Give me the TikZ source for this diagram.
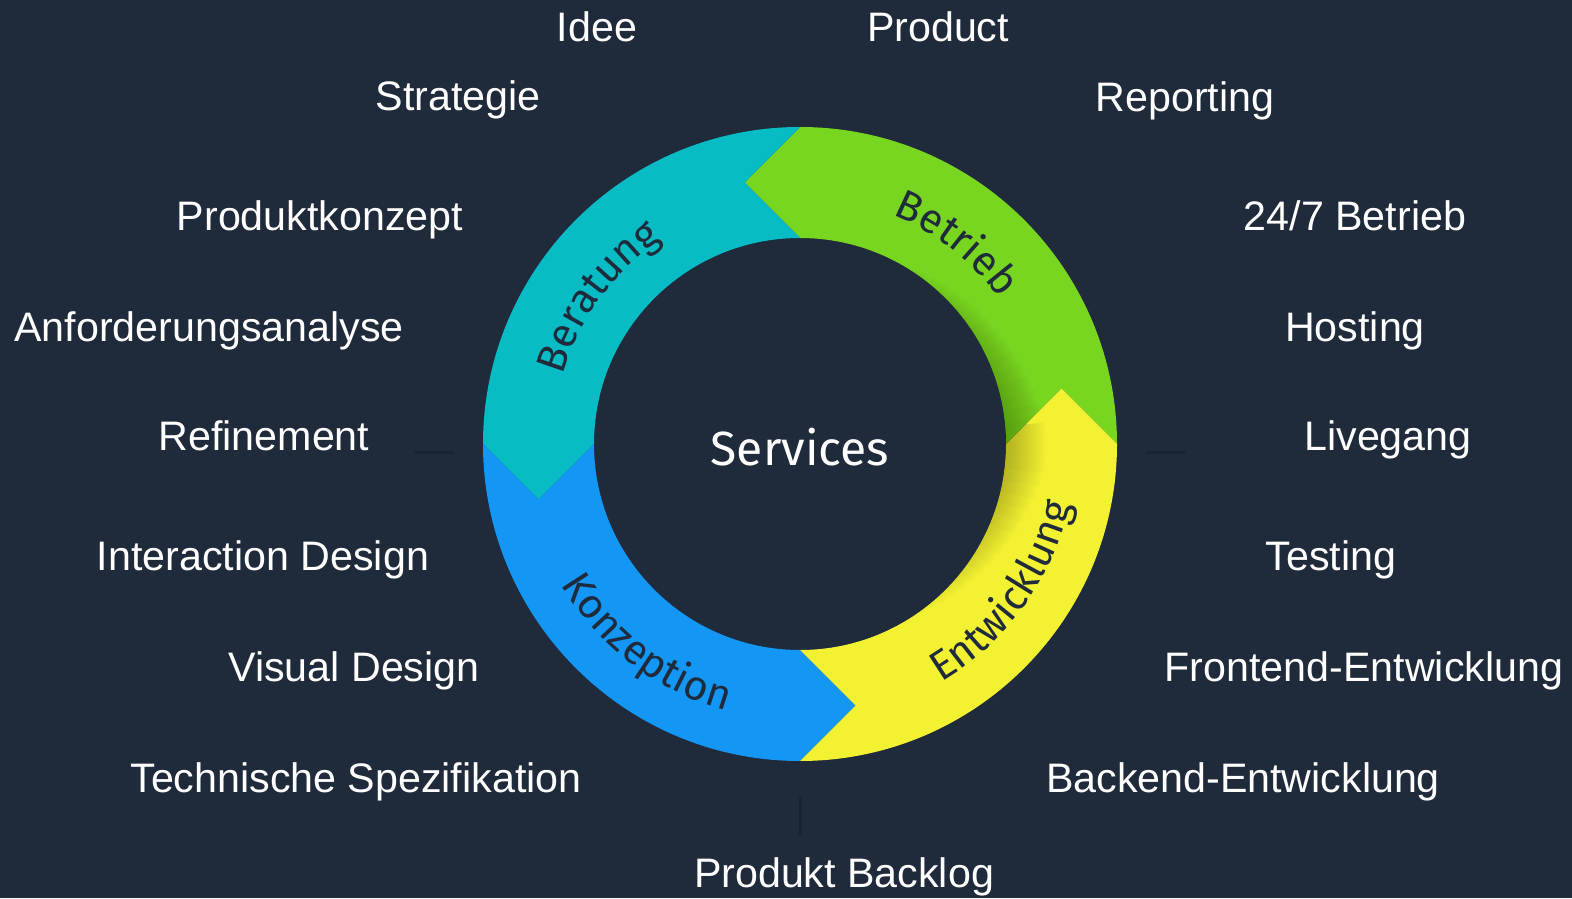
\documentclass[tikz,border=0pt]{standalone}
\usepackage{fontspec}
\setmainfont{Liberation Sans}
\newfontfamily\ringfont{Fira Sans}
\usetikzlibrary{calc,decorations.text}
\definecolor{bgc}{HTML}{1F2A3B}
\definecolor{segTeal}{HTML}{07BCC4}
\definecolor{segGreen}{HTML}{78D620}
\definecolor{segBlue}{HTML}{1496F5}
\definecolor{segYellow}{HTML}{F3F232}
\definecolor{ringtxt}{HTML}{1F2A3B}
\definecolor{dashc}{HTML}{19222F}
\tikzset{
  ringseg/.pic={
    \fill[pic actions] (317,0) -- (261.5,55.5) -- (206,0)
      arc[start angle=0,end angle=90,radius=206] -- (-55.5,261.5) -- (0,317)
      arc[start angle=90,end angle=0,radius=317] -- cycle;
  },
  lbl/.style={text=white, font=\fontsize{41.2}{48}\selectfont, anchor=base, inner sep=0pt},
  dashline/.style={draw=dashc, line width=3pt},
}
\begin{document}
\begin{tikzpicture}[x=1pt,y=1pt]
\fill[bgc] (0,0) rectangle (1572,898);
\useasboundingbox (0,0) rectangle (1572,898);
\coordinate (C) at (800,454);

% ring segments
\path (C) pic[fill=segGreen, rotate=0] {ringseg};
\path (C) pic[fill=segTeal, rotate=90] {ringseg};
\path (C) pic[fill=segBlue, rotate=180] {ringseg};
\path (C) pic[fill=segYellow, rotate=270] {ringseg};

% soft shadows near the inner edge
\begin{scope}
  \clip[shift={(C)}] (317,0) -- (261.5,55.5) -- (206,0)
      arc[start angle=0,end angle=90,radius=206] -- (-55.5,261.5) -- (0,317)
      arc[start angle=90,end angle=0,radius=317] -- cycle;
  \foreach \k in {1,...,16}{
    \fill[black,opacity=0.016] (C) -- ++(-5:{206+2.5*\k}) arc[start angle=-5,end angle={62-3.5*\k},radius={206+2.5*\k}] -- cycle;
  }
\end{scope}
\begin{scope}
  \clip[shift={(C)},rotate=270] (317,0) -- (261.5,55.5) -- (206,0)
      arc[start angle=0,end angle=90,radius=206] -- (-55.5,261.5) -- (0,317)
      arc[start angle=90,end angle=0,radius=317] -- cycle;
  \foreach \k in {1,...,16}{
    \fill[black,opacity=0.014] (C) -- ++({-58+3.2*\k}:{206+2.5*\k}) arc[start angle={-58+3.2*\k},end angle=5,radius={206+2.5*\k}] -- cycle;
  }
\end{scope}

% ring labels
\path[decorate,decoration={text along path,text align=center,text color=ringtxt,
  text={|\ringfont\fontsize{41.5}{50}\selectfont|Betrieb}}]
  (C) ++(92:247) arc[start angle=92,end angle=12,radius=247];
\path[decorate,decoration={text along path,text align=center,text color=ringtxt,
  text={|\ringfont\fontsize{41.5}{50}\selectfont|Beratung}}]
  (C) ++(184:247) arc[start angle=184,end angle=104,radius=247];
\path[decorate,decoration={text along path,text align=center,text color=ringtxt,
  text={|\ringfont\fontsize{41.5}{50}\selectfont|Konzeption}}]
  (C) ++(187.5:277) arc[start angle=187.5,end angle=277.5,radius=277];
\path[decorate,decoration={text along path,text align=center,text color=ringtxt,
  text={|\ringfont\fontsize{41.5}{50}\selectfont|Entwicklung}}]
  (C) ++(279:277) arc[start angle=279,end angle=369,radius=277];

\node[text=white, font=\ringfont\fontsize{48}{58}\selectfont, inner sep=0pt] (services) at (800,451) {Services};

% outer labels
\node[lbl] (idee) at (597,856.5) {Idee};
\node[lbl] (product) at (938,856.5) {Product};
\node[lbl] (strategie) at (458,787.5) {Strategie};
\node[lbl] (reporting) at (1185,786.5) {Reporting};
\node[lbl] (produktkonzept) at (320,667.5) {Produktkonzept};
\node[lbl] (betrieb247) at (1355,667.5) {24/7 Betrieb};
\node[lbl] (anforderung) at (209,556.5) {Anforderungsanalyse};
\node[lbl] (hosting) at (1355,556.5) {Hosting};
\node[lbl] (refinement) at (264,447.5) {Refinement};
\node[lbl] (livegang) at (1388,447.5) {Livegang};
\node[lbl] (interaction) at (263,327.5) {Interaction Design};
\node[lbl] (testing) at (1331,327.5) {Testing};
\node[lbl] (visual) at (354,216.5) {Visual Design};
\node[lbl] (frontend) at (1364,216.5) {Frontend-Entwicklung};
\node[lbl] (technische) at (356,105.5) {Technische Spezifikation};
\node[lbl] (backend) at (1243,105.5) {Backend-Entwicklung};
\node[lbl] (backlog) at (844,10.5) {Produkt Backlog};

% small dash marks
\coordinate (dl1) at (415,445); \coordinate (dl2) at (453,445);
\coordinate (dr1) at (1147,445); \coordinate (dr2) at (1185,445);
\coordinate (db1) at (800,101); \coordinate (db2) at (800,62);
\draw[dashline] (dl1) -- (dl2);
\draw[dashline] (dr1) -- (dr2);
\draw[dashline] (db1) -- (db2);
\end{tikzpicture}
\end{document}
